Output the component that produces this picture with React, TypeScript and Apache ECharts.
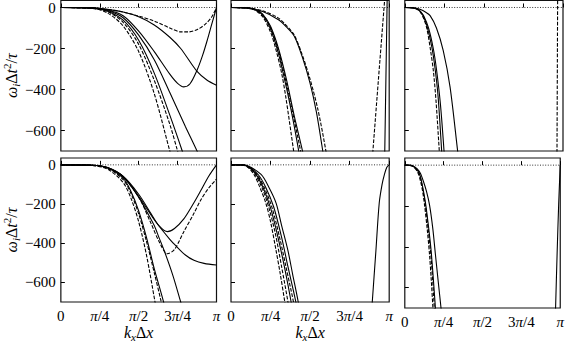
import React, { useEffect, useRef } from "react";
import * as echarts from "echarts";

type Pt = [number, number];

// x in units of pi (0..1), y = omega_i * dt^2 / tau
const X_TICK_LABELS = ["0", "{p|π}/4", "{p|π}/2", "3{p|π}/4", "{p|π}"];
const Y_TICKS = [-600, -400, -200, 0];
const ZERO_LINE: Pt[] = [[0, 0], [1, 0]];

// ---- top-left panel ----
const TL_A_DASH: Pt[] = [[0, 0], [0.2, -2], [0.3, -10], [0.4, -22], [0.5, -42], [0.6, -66], [0.7, -100], [0.77, -119], [0.82, -119], [0.88, -106], [0.93, -80], [0.97, -45], [1, 0]];
const TL_S1: Pt[] = [[0, 0], [0.2, -2], [0.3, -9], [0.4, -22], [0.5, -45], [0.6, -85], [0.7, -145], [0.77, -200], [0.875, -312], [0.94, -355], [1, -379]];
const TL_B: Pt[] = [[0, 0], [0.2, -2], [0.3, -12], [0.4, -40], [0.5, -115], [0.6, -215], [0.7, -325], [0.75, -370], [0.79, -387], [0.83, -372], [0.875, -306], [0.91, -235], [0.94, -161], [0.97, -80], [1, 0]];
const TL_S3: Pt[] = [[0, 0], [0.2, -3], [0.3, -15], [0.4, -50], [0.5, -135], [0.6, -255], [0.7, -415], [0.8, -580], [0.875, -700], [0.9, -745]];
const TL_S2: Pt[] = [[0, 0], [0.2, -3], [0.3, -18], [0.4, -62], [0.5, -160], [0.6, -320], [0.7, -525], [0.78, -700], [0.8, -750]];
const TL_D2: Pt[] = [[0, 0], [0.2, -3], [0.3, -20], [0.4, -72], [0.5, -180], [0.6, -355], [0.7, -570], [0.75, -700], [0.77, -750]];
const TL_D1: Pt[] = [[0, 0], [0.2, -4], [0.3, -27], [0.4, -90], [0.5, -215], [0.6, -420], [0.7, -700], [0.72, -750]];

// ---- bottom-left panel ----
const BL_C: Pt[] = [[0, 0], [0.2, -2], [0.3, -14], [0.4, -58], [0.5, -150], [0.58, -250], [0.63, -310], [0.685, -341], [0.73, -325], [0.79, -276], [0.85, -200], [0.9, -130], [0.95, -58], [1, 0]];
const BL_E_DASH: Pt[] = [[0, 0], [0.2, -2], [0.3, -15], [0.4, -62], [0.5, -165], [0.58, -300], [0.63, -390], [0.685, -454], [0.73, -432], [0.79, -341], [0.85, -255], [0.9, -178], [0.95, -118], [1, -73]];
const BL_F: Pt[] = [[0, 0], [0.2, -2], [0.3, -15], [0.4, -60], [0.5, -160], [0.6, -280], [0.7, -380], [0.74, -414], [0.8, -460], [0.855, -487], [0.92, -503], [1, -511]];
const BL_D3: Pt[] = [[0, 0], [0.2, -3], [0.3, -22], [0.4, -90], [0.45, -170], [0.5, -290], [0.55, -460], [0.605, -700], [0.62, -770]];
const BL_D4: Pt[] = [[0, 0], [0.2, -3], [0.3, -18], [0.4, -75], [0.45, -145], [0.5, -250], [0.55, -390], [0.6, -550], [0.645, -700], [0.66, -760]];
const BL_S4: Pt[] = [[0, 0], [0.2, -2], [0.3, -16], [0.4, -68], [0.45, -135], [0.5, -235], [0.55, -370], [0.6, -530], [0.66, -700], [0.675, -760]];
const BL_S5: Pt[] = [[0, 0], [0.2, -2], [0.3, -14], [0.4, -60], [0.5, -165], [0.55, -235], [0.6, -310], [0.63, -370], [0.665, -440], [0.72, -565], [0.77, -700], [0.785, -740]];

// ---- top-middle panel ----
const TM_G1A_DASH: Pt[] = [[0, 0], [0.1, -2], [0.15, -12], [0.2, -45], [0.25, -120], [0.284, -205], [0.32, -320], [0.347, -440], [0.396, -700], [0.41, -780]];
const TM_G1B: Pt[] = [[0, 0], [0.1, -2], [0.15, -10], [0.2, -38], [0.25, -105], [0.3, -225], [0.35, -390], [0.39, -540], [0.428, -700], [0.44, -760]];
const TM_G1C_DASH: Pt[] = [[0, 0], [0.1, -2], [0.15, -9], [0.2, -35], [0.25, -98], [0.3, -210], [0.35, -370], [0.4, -550], [0.44, -700], [0.45, -750]];
const TM_G1D: Pt[] = [[0, 0], [0.1, -1], [0.15, -8], [0.2, -32], [0.25, -92], [0.3, -200], [0.35, -350], [0.4, -530], [0.452, -700], [0.465, -760]];
const TM_G2: Pt[] = [[0, 0], [0.1, -4], [0.2, -20], [0.3, -60], [0.35, -95], [0.4, -140], [0.45, -240], [0.5, -370], [0.54, -510], [0.58, -700], [0.59, -760]];
const TM_G2_DASH: Pt[] = [[0, 0], [0.1, -3], [0.2, -16], [0.3, -52], [0.35, -88], [0.4, -135], [0.45, -230], [0.5, -350], [0.55, -500], [0.6, -700], [0.61, -760]];
const TM_EDGE_DASH: Pt[] = [[0.888, -790], [0.897, -700], [0.935, -320], [0.97, 25], [0.975, 80]];
const TM_EDGE: Pt[] = [[0.971, -760], [0.972, -700], [0.987, 35], [0.99, 180]];

// ---- bottom-middle panel ----
const BM_D1: Pt[] = [[0, 0], [0.05, 0], [0.1, -8], [0.145, -49], [0.18, -110], [0.22, -195], [0.25, -290], [0.285, -438], [0.31, -550], [0.34, -700], [0.35, -760]];
const BM_D2: Pt[] = [[0, 0], [0.05, 0], [0.1, -7], [0.15, -45], [0.2, -125], [0.24, -220], [0.28, -350], [0.32, -520], [0.36, -700], [0.37, -760]];
const BM_S1: Pt[] = [[0, 0], [0.05, 0], [0.1, -6], [0.155, -45], [0.2, -110], [0.25, -220], [0.3, -380], [0.34, -530], [0.38, -700], [0.39, -760]];
const BM_D3: Pt[] = [[0, 0], [0.05, 0], [0.1, -5], [0.16, -45], [0.21, -115], [0.26, -220], [0.31, -380], [0.35, -530], [0.395, -700], [0.405, -760]];
const BM_S2: Pt[] = [[0, 0], [0.05, 0], [0.1, -5], [0.17, -48], [0.22, -115], [0.27, -215], [0.32, -370], [0.36, -520], [0.41, -700], [0.42, -760]];
const BM_S3: Pt[] = [[0, 0], [0.05, 0], [0.1, -4], [0.19, -49], [0.24, -115], [0.285, -195], [0.32, -310], [0.36, -438], [0.39, -560], [0.425, -700], [0.435, -760]];
const BM_EDGE: Pt[] = [[0.889, -750], [0.893, -700], [0.916, -438], [0.937, -195], [0.955, -100], [0.97, -49], [0.985, -12], [1, 0]];

// ---- top-right panel ----
const TR_D1: Pt[] = [[0, 0], [0.05, -2], [0.08, -10], [0.1, -25], [0.12, -55], [0.14, -105], [0.163, -210], [0.18, -305], [0.197, -452], [0.218, -700], [0.225, -790]];
const TR_S1: Pt[] = [[0, 0], [0.05, -2], [0.08, -9], [0.1, -22], [0.12, -48], [0.14, -90], [0.17, -190], [0.19, -290], [0.21, -430], [0.233, -700], [0.24, -790]];
const TR_S2: Pt[] = [[0, 0], [0.05, -1], [0.08, -8], [0.1, -20], [0.12, -42], [0.15, -100], [0.18, -200], [0.2, -300], [0.225, -470], [0.248, -700], [0.255, -790]];
const TR_S3: Pt[] = [[0, 0], [0.05, -1], [0.08, -5], [0.1, -10], [0.13, -22], [0.16, -40], [0.2, -100], [0.243, -210], [0.286, -387], [0.334, -700], [0.34, -740]];
const TR_EDGE_DASH: Pt[] = [[0.961, -760], [0.962, -700], [0.966, 35], [0.967, 60]];

// ---- bottom-right panel ----
const BR_D1: Pt[] = [[0, 0], [0.03, -1], [0.05, -5], [0.08, -30], [0.1, -75], [0.115, -130], [0.127, -195], [0.145, -320], [0.159, -438], [0.17, -560], [0.181, -700], [0.188, -790]];
const BR_D2: Pt[] = [[0, 0], [0.03, -1], [0.05, -4], [0.08, -25], [0.1, -60], [0.13, -185], [0.15, -310], [0.17, -460], [0.19, -700], [0.197, -800]];
const BR_S1: Pt[] = [[0, 0], [0.03, -1], [0.05, -4], [0.08, -23], [0.1, -55], [0.13, -170], [0.15, -285], [0.17, -425], [0.197, -700], [0.205, -800]];
const BR_S2: Pt[] = [[0, 0], [0.03, 0], [0.05, -3], [0.08, -18], [0.1, -40], [0.12, -80], [0.14, -130], [0.159, -195], [0.18, -310], [0.197, -438], [0.215, -570], [0.233, -700], [0.24, -755]];
const BR_EDGE: Pt[] = [[0.968, -760], [0.97, -700], [0.98, -430], [0.99, -190], [1, 0]];

type Curve = { panel: number; data: Pt[]; dash?: boolean; smooth?: boolean };

const CURVES: Curve[] = [
  { panel: 0, data: TL_A_DASH, dash: true },
  { panel: 0, data: TL_S1 },
  { panel: 0, data: TL_B },
  { panel: 0, data: TL_S3 },
  { panel: 0, data: TL_S2 },
  { panel: 0, data: TL_D2, dash: true },
  { panel: 0, data: TL_D1, dash: true },
  { panel: 1, data: TM_G1A_DASH, dash: true },
  { panel: 1, data: TM_G1B },
  { panel: 1, data: TM_G1C_DASH, dash: true },
  { panel: 1, data: TM_G1D },
  { panel: 1, data: TM_G2 },
  { panel: 1, data: TM_G2_DASH, dash: true },
  { panel: 1, data: TM_EDGE_DASH, dash: true, smooth: false },
  { panel: 1, data: TM_EDGE, smooth: false },
  { panel: 2, data: TR_D1, dash: true },
  { panel: 2, data: TR_S1 },
  { panel: 2, data: TR_S2 },
  { panel: 2, data: TR_S3 },
  { panel: 2, data: TR_EDGE_DASH, dash: true, smooth: false },
  { panel: 3, data: BL_C },
  { panel: 3, data: BL_E_DASH, dash: true },
  { panel: 3, data: BL_F },
  { panel: 3, data: BL_D3, dash: true },
  { panel: 3, data: BL_D4, dash: true },
  { panel: 3, data: BL_S4 },
  { panel: 3, data: BL_S5 },
  { panel: 4, data: BM_D1, dash: true },
  { panel: 4, data: BM_D2, dash: true },
  { panel: 4, data: BM_S1 },
  { panel: 4, data: BM_D3, dash: true },
  { panel: 4, data: BM_S2 },
  { panel: 4, data: BM_S3 },
  { panel: 4, data: BM_EDGE },
  { panel: 5, data: BR_D1, dash: true },
  { panel: 5, data: BR_D2, dash: true },
  { panel: 5, data: BR_S1 },
  { panel: 5, data: BR_S2 },
  { panel: 5, data: BR_EDGE },
];

const FONT = "Liberation Serif";
const LEFTS = [58.3, 231, 404.8];
const PW = 158.2;
const TOPS = [0.3, 158];
const HEIGHTS = [150.7, 150];

const richBase = {
  i: { fontFamily: FONT, fontStyle: "italic", fontSize: 16, lineHeight: 20, color: "#000" },
  n: { fontFamily: FONT, fontSize: 16, lineHeight: 20, color: "#000" },
  s: { fontFamily: FONT, fontStyle: "italic", fontSize: 11, lineHeight: 11, verticalAlign: "bottom", color: "#000" },
  p: { fontFamily: FONT, fontSize: 11, lineHeight: 11, verticalAlign: "top", color: "#000" },
};

export default function App() {
  const ref = useRef<HTMLDivElement>(null);
  useEffect(() => {
    if (!ref.current) return;
    const chart = echarts.init(ref.current, null, { renderer: "svg" });
    const grids: any[] = [];
    const xAxes: any[] = [];
    const yAxes: any[] = [];
    for (let p = 0; p < 6; p++) {
      const row = Math.floor(p / 3);
      const col = p % 3;
      grids.push({
        left: LEFTS[col],
        top: TOPS[row],
        width: PW,
        height: HEIGHTS[row],
        show: true,
        borderColor: "#111",
        borderWidth: 1.2,
        backgroundColor: "transparent",
        containLabel: false,
      });
      xAxes.push({
        type: "value",
        gridIndex: p,
        min: 0,
        max: 1,
        interval: 0.25,
        axisLine: { show: false },
        splitLine: { show: false },
        axisTick: { show: true, inside: true, length: 4, lineStyle: { color: "#000", width: 1 } },
        axisLabel: {
          show: row === 1,
          margin: 6,
          fontFamily: FONT,
          fontSize: 15,
          color: "#000",
          formatter: (v: number) => X_TICK_LABELS[Math.round(v * 4)],
          rich: { p: { fontFamily: FONT, fontStyle: "italic", fontSize: 15, color: "#000" } },
        },
        name: row === 1 && col < 2 ? "{i|k}{s|x}{n|Δ}{i|x}" : "",
        nameLocation: "middle",
        nameGap: 20,
        nameTextStyle: { rich: richBase },
      });
      yAxes.push({
        type: "value",
        gridIndex: p,
        min: -700,
        max: 35,
        axisLine: { show: false },
        splitLine: { show: false },
        axisTick: { show: true, inside: true, length: 4, customValues: Y_TICKS, lineStyle: { color: "#000", width: 1 } },
        axisLabel: {
          show: col === 0,
          customValues: Y_TICKS,
          margin: 5,
          fontFamily: FONT,
          fontSize: 15,
          color: "#000",
          formatter: (v: number) => (v === 0 ? "0" : "−" + Math.abs(v)),
        },
        name: col === 0 ? "{i|ω}{s|i}{n|Δ}{i|t}{p|2}{n|/}{i|τ}" : "",
        nameLocation: "middle",
        nameRotate: 90,
        nameGap: 38,
        nameTextStyle: { rich: richBase },
      });
    }
    const series: any[] = [];
    for (let p = 0; p < 6; p++) {
      series.push({
        type: "line",
        xAxisIndex: p,
        yAxisIndex: p,
        data: ZERO_LINE,
        showSymbol: false,
        symbol: "none",
        silent: true,
        lineStyle: { color: "#333", width: 1, type: [1, 1.6] },
      });
    }
    for (const c of CURVES) {
      series.push({
        type: "line",
        xAxisIndex: c.panel,
        yAxisIndex: c.panel,
        data: c.data,
        showSymbol: false,
        symbol: "none",
        silent: true,
        clip: true,
        smooth: c.smooth === false ? false : 0.3,
        lineStyle: { color: "#000", width: 1.1, type: c.dash ? [3.7, 1.6] : "solid" },
      });
    }
    chart.setOption({
      animation: false,
      backgroundColor: "#fff",
      grid: grids,
      xAxis: xAxes,
      yAxis: yAxes,
      series,
    });
    return () => chart.dispose();
  }, []);
  return (
    <div
      ref={ref}
      style={{ position: "fixed", left: 0, top: 0, width: 567, height: 343 }}
    />
  );
}
